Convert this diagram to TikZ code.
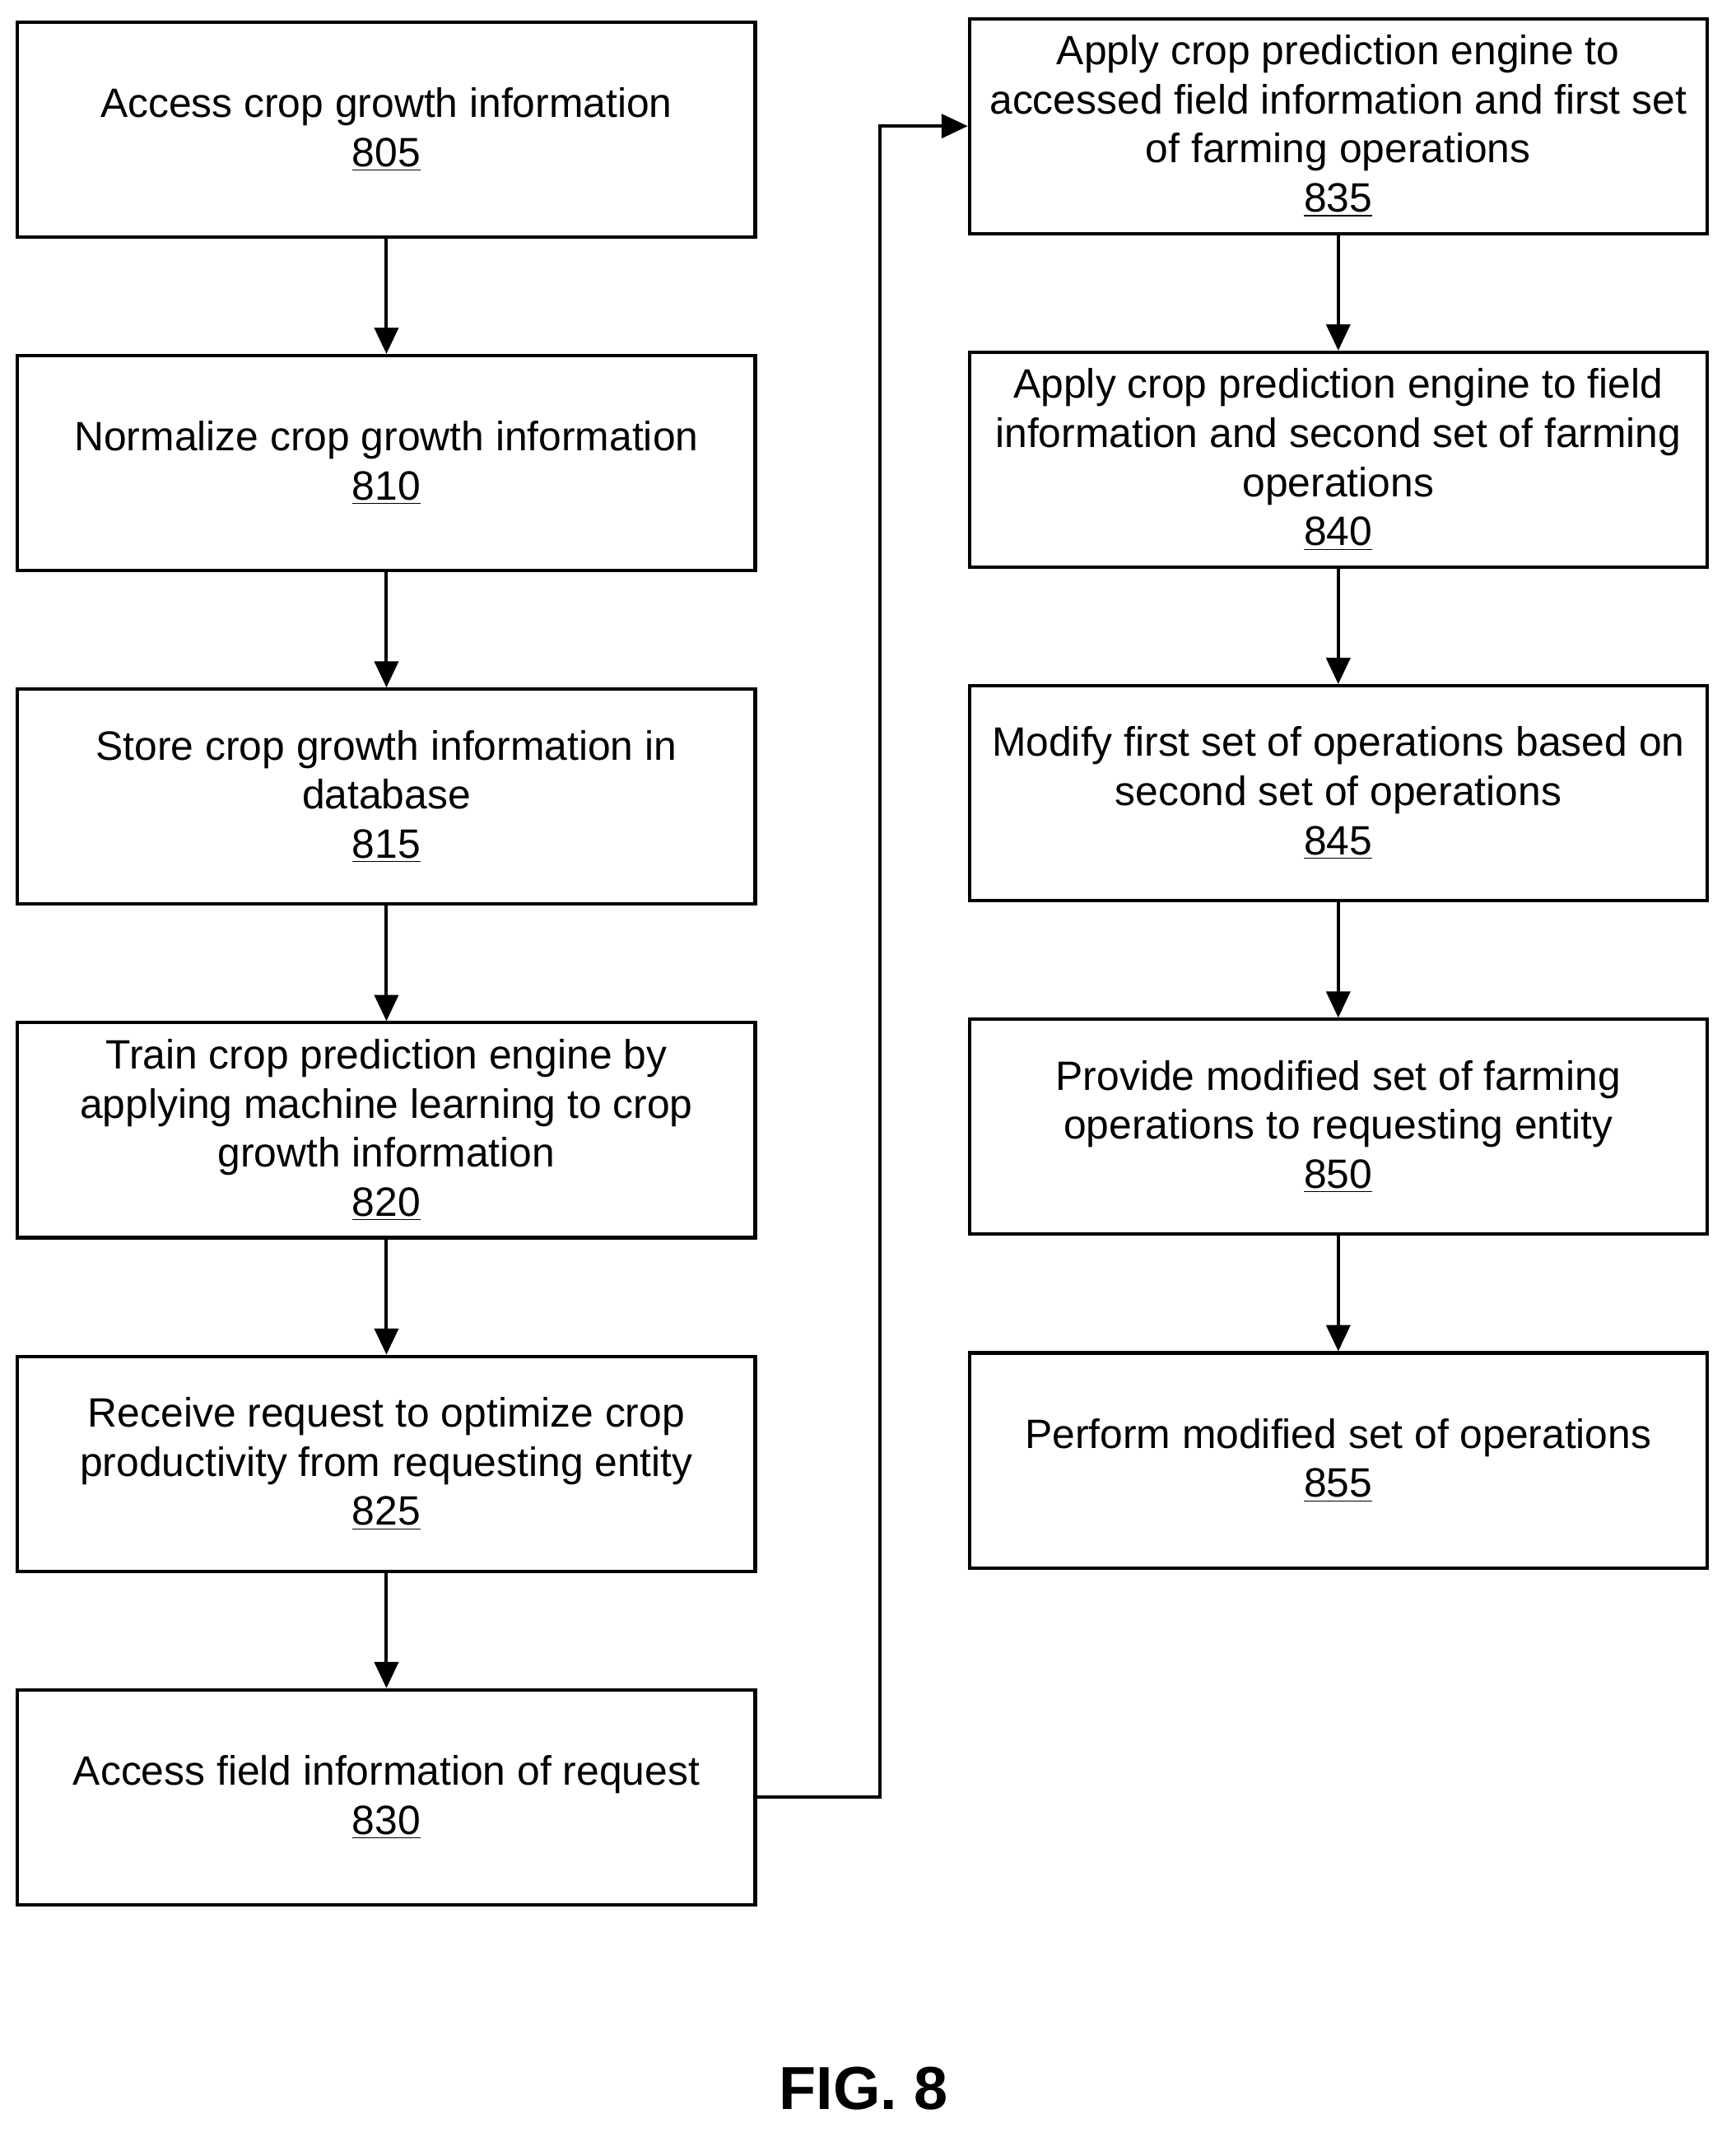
\documentclass[tikz,border=0pt]{standalone}
\usepackage{fontspec}
\setmainfont{Liberation Sans}
\usetikzlibrary{positioning,arrows.meta}
\begin{document}
\begin{tikzpicture}[auto, node distance =4.92cm and 14.04cm, on grid,
    line width=1.4pt,
    stage/.style={rectangle, draw, minimum width=10.88cm, minimum height=3.17cm,
      align=center, font=\fontsize{17.2}{20.6}\selectfont},
    flow/.style={-{Triangle[length=11pt,width=10pt]}}
    ]
    \useasboundingbox (0,0) rectangle (25.6,-31.52);
    \node[stage] (S805) at (5.70,-1.91) {Access crop growth information\\\underline{805}};
    \node[stage] (S810) [below = of S805] {Normalize crop growth information\\\underline{810}};
    \node[stage] (S815) [below = of S810] {Store crop growth information in\\database\\\underline{815}};
    \node[stage] (S820) [below = of S815] {Train crop prediction engine by\\applying machine learning to crop\\growth information\\\underline{820}};
    \node[stage] (S825) [below = of S820] {Receive request to optimize crop\\productivity from requesting entity\\\underline{825}};
    \node[stage] (S830) [below = of S825] {Access field information of request\\\underline{830}};
    \node[stage] (S835) at (19.74,-1.86) {Apply crop prediction engine to\\accessed field information and first set\\of farming operations\\\underline{835}};
    \node[stage] (S840) [below = of S835] {Apply crop prediction engine to field\\information and second set of farming\\operations\\\underline{840}};
    \node[stage] (S845) [below = of S840] {Modify first set of operations based on\\second set of operations\\\underline{845}};
    \node[stage] (S850) [below = of S845] {Provide modified set of farming\\operations to requesting entity\\\underline{850}};
    \node[stage] (S855) [below = of S850] {Perform modified set of operations\\\underline{855}};
    \node[font=\bfseries\fontsize{25.5}{30}\selectfont] (fig) at (12.74,-30.8) {FIG. 8};
    \draw[flow] (S805) -- (S810);
    \draw[flow] (S810) -- (S815);
    \draw[flow] (S815) -- (S820);
    \draw[flow] (S820) -- (S825);
    \draw[flow] (S825) -- (S830);
    \draw[flow] (S830.east) -- ++(1.82,0) |- (S835.west);
    \draw[flow] (S835) -- (S840);
    \draw[flow] (S840) -- (S845);
    \draw[flow] (S845) -- (S850);
    \draw[flow] (S850) -- (S855);
\end{tikzpicture}
\end{document}
